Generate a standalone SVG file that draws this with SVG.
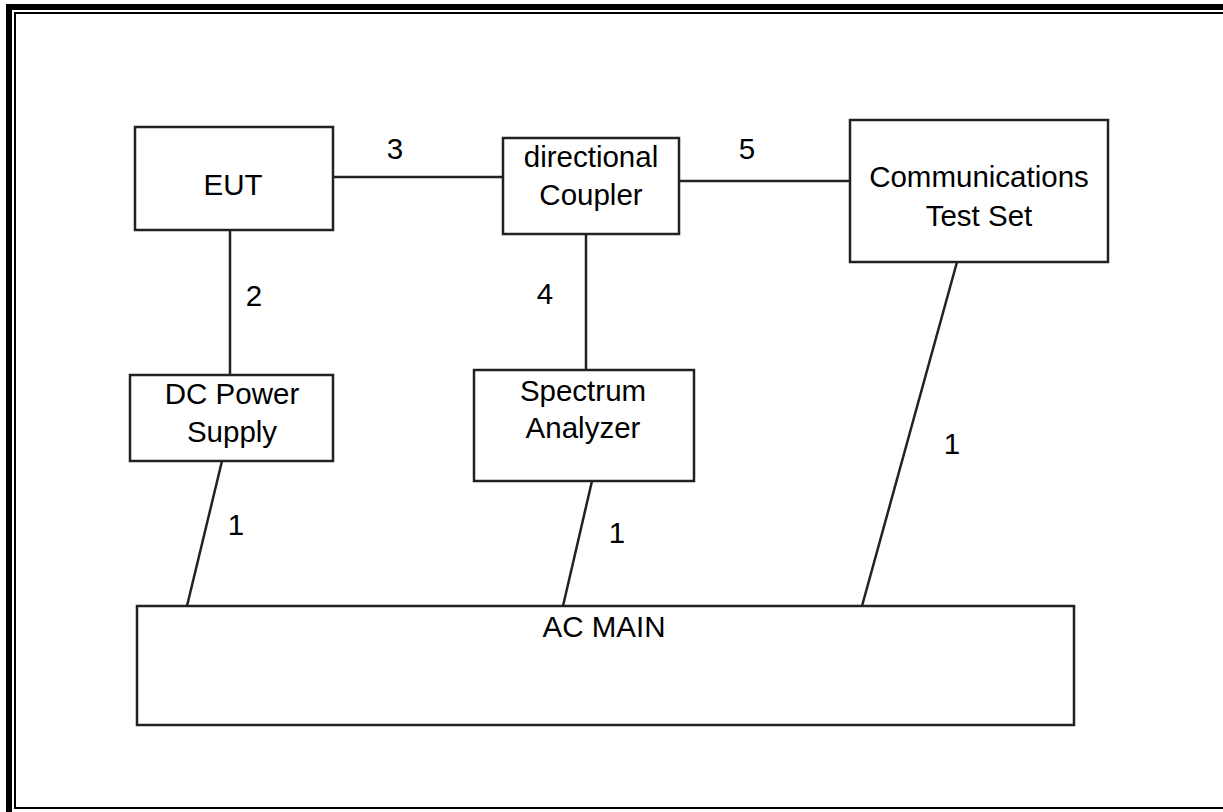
<svg xmlns="http://www.w3.org/2000/svg" width="1223" height="812" viewBox="0 0 1223 812">
<style>
.box{fill:#fff;stroke:#222;stroke-width:2.5}
.ln{stroke:#222;stroke-width:2.5;fill:none}
text{font-family:"Liberation Sans",Arial,sans-serif;font-size:29.5px;fill:#000;text-anchor:middle}
</style>
<rect width="1223" height="812" fill="#fff"/>
<g id="frame">
<rect x="9" y="7" width="1300" height="900" fill="none" stroke="#000" stroke-width="6"/>
<rect x="15" y="13" width="1300" height="795" fill="none" stroke="#000" stroke-width="2"/>
</g>
<g id="connectors">
<line class="ln" x1="333" y1="177" x2="503" y2="177"/>
<line class="ln" x1="679" y1="181" x2="850" y2="181"/>
<line class="ln" x1="230" y1="230" x2="230" y2="375"/>
<line class="ln" x1="586" y1="234" x2="586" y2="370"/>
<line class="ln" x1="222" y1="461" x2="187" y2="606"/>
<line class="ln" x1="592" y1="481" x2="563" y2="606"/>
<line class="ln" x1="957" y1="262" x2="862" y2="606"/>
<text x="395" y="159">3</text>
<text x="747" y="159">5</text>
<text x="254" y="306">2</text>
<text x="545" y="304">4</text>
<text x="236" y="535">1</text>
<text x="617" y="543">1</text>
<text x="952" y="454">1</text>
</g>
<g id="eut"><rect class="box" x="135" y="127" width="198" height="103"/><text x="233" y="195">EUT</text></g>
<g id="coupler"><rect class="box" x="503" y="138" width="176" height="96"/><text x="591" y="167">directional</text><text x="591" y="205">Coupler</text></g>
<g id="comm"><rect class="box" x="850" y="120" width="258" height="142"/><text x="979" y="187">Communications</text><text x="979" y="226">Test Set</text></g>
<g id="dcps"><rect class="box" x="130" y="375" width="203" height="86"/><text x="232" y="404">DC Power</text><text x="232" y="442">Supply</text></g>
<g id="sa"><rect class="box" x="474" y="370" width="220" height="111"/><text x="583" y="401">Spectrum</text><text x="583" y="438">Analyzer</text></g>
<g id="acmain"><rect class="box" x="137" y="606" width="937" height="119"/><text x="604" y="637">AC MAIN</text></g>
</svg>
